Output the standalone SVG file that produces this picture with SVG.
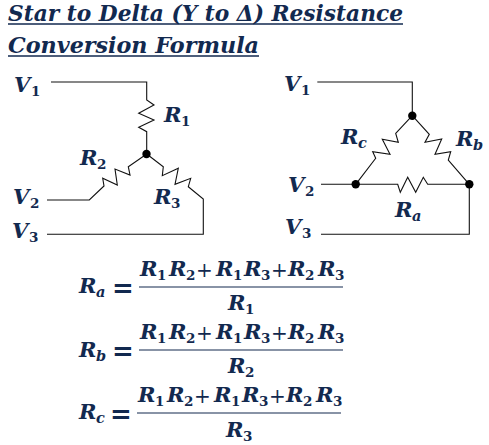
<svg xmlns="http://www.w3.org/2000/svg" width="489" height="445" viewBox="0 0 489 445">
<style>
text{font-family:"DejaVu Serif","Liberation Serif",serif;fill:#12294f;font-weight:bold}
.t{font-size:21.5px;font-style:italic}
.v{font-size:21px;font-style:italic}
.s{font-size:13.5px}
.si{font-size:14.5px;font-style:italic}
.p{font-size:20px;font-weight:normal}
.e{font-size:26px}
.w{fill:none;stroke:#111;stroke-width:1.1}
.u{stroke:#12294f;stroke-width:1.3}
.f{stroke:#12294f;stroke-width:1.2}
.d{fill:#000}
</style>
<rect width="489" height="445" fill="#fff"/>
<g id="title">
<text class="t" x="8" y="21" textLength="395" lengthAdjust="spacingAndGlyphs">Star to Delta (Y to Δ) Resistance</text>
<line class="u" x1="8" y1="24" x2="403" y2="24"/>
<text class="t" x="8" y="53" textLength="251" lengthAdjust="spacingAndGlyphs">Conversion Formula</text>
<line class="u" x1="8" y1="56" x2="259" y2="56"/>
</g>
<g id="connectors">
<polyline class="w" points="51,82 146.7,82 146.7,100 154,105 138.7,113.3 154,120 138.7,127.3 146.7,131.7 146.7,154"/>
<polyline class="w" points="146.7,154 128.3,166.7 130,175 115,169 117.3,185 102.7,178.3 104,186 89.3,200 47,200"/>
<polyline class="w" points="146.7,154 163.3,166.7 162.3,175.7 178.3,168.3 175,184.3 190.7,178.3 188.3,186.7 203.3,199 203.3,234.3 47,234.3"/>
<polyline class="w" points="317.3,82 412.3,82 412.3,115.7"/>
<polyline class="w" points="412.3,115.7 395.7,133.3 398.3,142.3 382.3,139.3 390,154.3 372.7,151.7 375.7,158.3 355.7,184.3"/>
<polyline class="w" points="412.3,115.7 429.3,134.3 425,142.3 441.7,139 435,154.3 450.7,151.7 448.3,160 469.3,184.3"/>
<polyline class="w" points="321,184.3 397.7,184.3 400.3,192.3 407.7,177.3 415.7,192.3 423.3,177.3 427.7,184.3 469.3,184.3 469.3,234.3 321,234.3"/>
</g>
<g id="node-star-center"><circle class="d" cx="146.5" cy="154" r="4.2"/></g>
<g id="node-delta-top"><circle class="d" cx="412.3" cy="115.7" r="4.2"/></g>
<g id="node-delta-left"><circle class="d" cx="355.7" cy="184.3" r="4.2"/></g>
<g id="node-delta-right"><circle class="d" cx="469.3" cy="184.3" r="4.2"/></g>
<g id="labels-star">
<text><tspan class="v" x="14" y="92">V</tspan><tspan class="s" x="31" y="96">1</tspan></text>
<text><tspan class="v" x="13" y="204">V</tspan><tspan class="s" x="30" y="208">2</tspan></text>
<text><tspan class="v" x="12" y="238">V</tspan><tspan class="s" x="29" y="242">3</tspan></text>
<text><tspan class="v" x="164" y="122">R</tspan><tspan class="s" x="181" y="126">1</tspan></text>
<text><tspan class="v" x="80" y="165">R</tspan><tspan class="s" x="97" y="169">2</tspan></text>
<text><tspan class="v" x="154" y="204">R</tspan><tspan class="s" x="171" y="208">3</tspan></text>
</g>
<g id="labels-delta">
<text><tspan class="v" x="284" y="91">V</tspan><tspan class="s" x="301" y="95">1</tspan></text>
<text><tspan class="v" x="288" y="192">V</tspan><tspan class="s" x="305" y="196">2</tspan></text>
<text><tspan class="v" x="285" y="234">V</tspan><tspan class="s" x="302" y="238">3</tspan></text>
<text><tspan class="v" x="341" y="144">R</tspan><tspan class="si" x="358" y="148">c</tspan></text>
<text><tspan class="v" x="456" y="146">R</tspan><tspan class="si" x="473" y="150">b</tspan></text>
<text><tspan class="v" x="395" y="217">R</tspan><tspan class="si" x="412" y="221">a</tspan></text>
</g>
<g id="formula-a">
<text><tspan class="v" x="79" y="293">R</tspan><tspan class="si" x="96" y="297">a</tspan></text>
<text class="e" x="112" y="297">=</text>
<text><tspan class="v" x="140" y="276">R</tspan><tspan class="s" x="157" y="280">1</tspan><tspan class="v" x="169" y="276">R</tspan><tspan class="s" x="186" y="280">2</tspan><tspan class="p" x="196" y="277">+</tspan><tspan class="v" x="216" y="276">R</tspan><tspan class="s" x="233" y="280">1</tspan><tspan class="v" x="244" y="276">R</tspan><tspan class="s" x="261" y="280">3</tspan><tspan class="p" x="271" y="277">+</tspan><tspan class="v" x="288" y="276">R</tspan><tspan class="s" x="305" y="280">2</tspan><tspan class="v" x="318" y="276">R</tspan><tspan class="s" x="335" y="280">3</tspan></text>
<line class="f" x1="139" y1="287" x2="343" y2="287"/>
<text><tspan class="v" x="228" y="310">R</tspan><tspan class="s" x="245" y="314">1</tspan></text>
</g>
<g id="formula-b">
<text><tspan class="v" x="79" y="357">R</tspan><tspan class="si" x="96" y="361">b</tspan></text>
<text class="e" x="112" y="360">=</text>
<text><tspan class="v" x="140" y="339">R</tspan><tspan class="s" x="157" y="343">1</tspan><tspan class="v" x="169" y="339">R</tspan><tspan class="s" x="186" y="343">2</tspan><tspan class="p" x="196" y="340">+</tspan><tspan class="v" x="216" y="339">R</tspan><tspan class="s" x="233" y="343">1</tspan><tspan class="v" x="244" y="339">R</tspan><tspan class="s" x="261" y="343">3</tspan><tspan class="p" x="271" y="340">+</tspan><tspan class="v" x="288" y="339">R</tspan><tspan class="s" x="305" y="343">2</tspan><tspan class="v" x="318" y="339">R</tspan><tspan class="s" x="335" y="343">3</tspan></text>
<line class="f" x1="139" y1="350" x2="343" y2="350"/>
<text><tspan class="v" x="228" y="373">R</tspan><tspan class="s" x="245" y="377">2</tspan></text>
</g>
<g id="formula-c">
<text><tspan class="v" x="79" y="419">R</tspan><tspan class="si" x="96" y="423">c</tspan></text>
<text class="e" x="110" y="423">=</text>
<text><tspan class="v" x="138" y="402">R</tspan><tspan class="s" x="155" y="406">1</tspan><tspan class="v" x="167" y="402">R</tspan><tspan class="s" x="184" y="406">2</tspan><tspan class="p" x="194" y="403">+</tspan><tspan class="v" x="214" y="402">R</tspan><tspan class="s" x="231" y="406">1</tspan><tspan class="v" x="242" y="402">R</tspan><tspan class="s" x="259" y="406">3</tspan><tspan class="p" x="269" y="403">+</tspan><tspan class="v" x="286" y="402">R</tspan><tspan class="s" x="303" y="406">2</tspan><tspan class="v" x="316" y="402">R</tspan><tspan class="s" x="333" y="406">3</tspan></text>
<line class="f" x1="137" y1="413" x2="341" y2="413"/>
<text><tspan class="v" x="226" y="437">R</tspan><tspan class="s" x="243" y="441">3</tspan></text>
</g>
</svg>
